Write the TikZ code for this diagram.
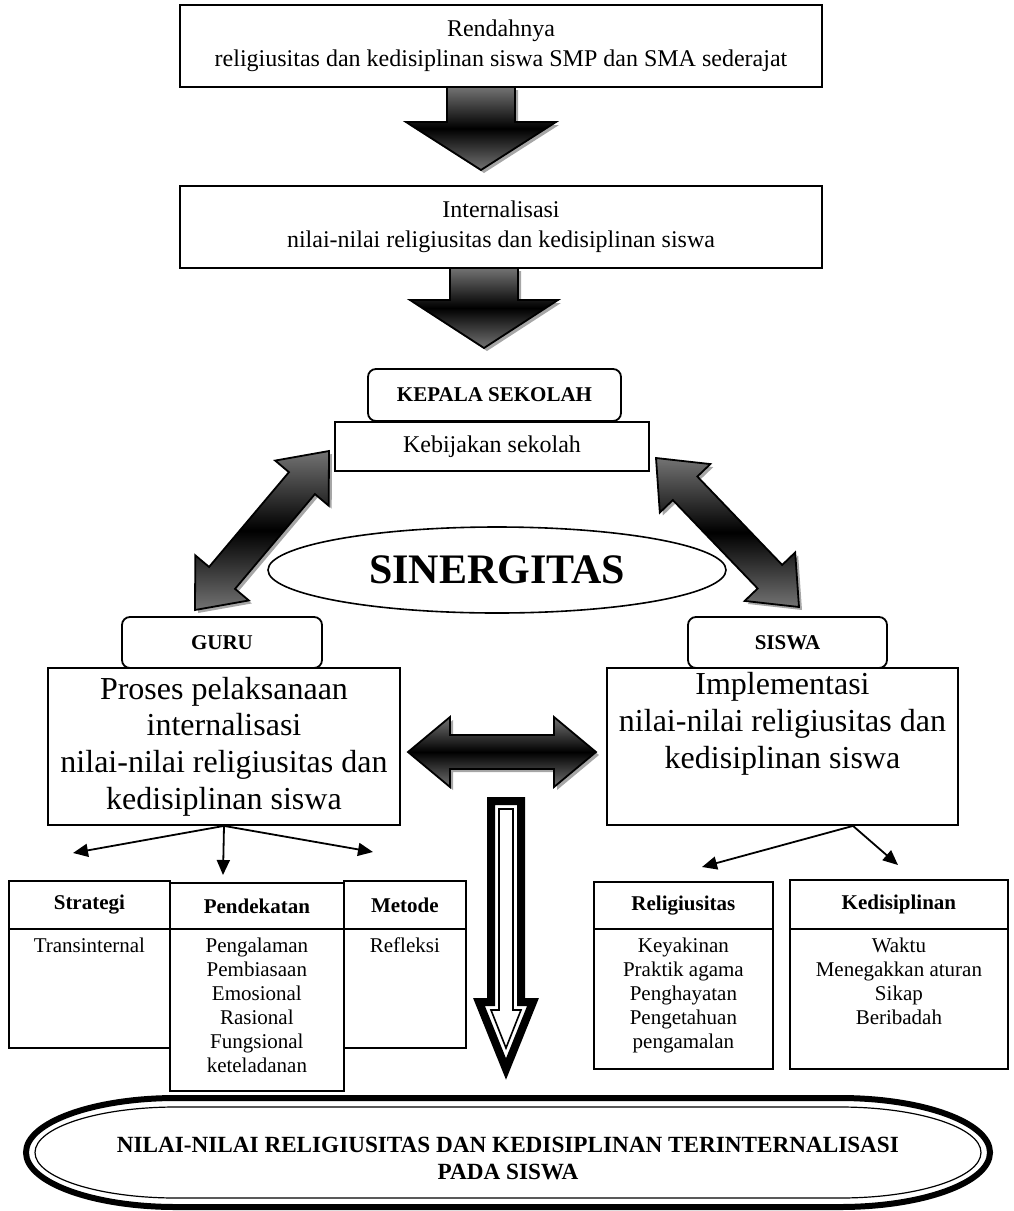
\documentclass[tikz,border=0pt]{standalone}
\usepackage{fontspec}
\setmainfont{Liberation Serif}
\usetikzlibrary{shapes.geometric, positioning, arrows.meta, calc, shadows}

\begin{document}
\begin{tikzpicture}[x=0.5pt, y=-0.5pt, >={Triangle[length=7.5pt, width=6.5pt]},
		box/.style={draw, line width=0.9pt, inner sep=0pt, align=center},
		rbox/.style={box, rounded corners=4pt, font=\fontsize{10.5}{12}\selectfont\bfseries},
		cell/.style={box, anchor=north west},
		head/.style={cell, font=\fontsize{10.5}{12}\selectfont\bfseries},
		body/.style={align=center, inner sep=0pt, font=\fontsize{10.5}{12}\selectfont},
		blockarrow/.style={draw, line width=0.9pt, top color=black!55, bottom color=black!55, middle color=black,
			drop shadow={shadow xshift=1.5pt, shadow yshift=-1.5pt, fill=black!35, opacity=1}}]

		\useasboundingbox (0,0) rectangle (1013,1211);

		\node[box, minimum width=321pt, minimum height=41pt, font=\fontsize{12}{15}\selectfont	] (masalah) 	at (501,46) 	{Rendahnya\\religiusitas dan kedisiplinan siswa SMP dan SMA sederajat};
		\node[box, minimum width=321pt, minimum height=41pt, font=\fontsize{12}{15}\selectfont	] (internal) 	at (501,227) 	{Internalisasi\\nilai-nilai religiusitas dan kedisiplinan siswa};
		\node[rbox, minimum width=126.5pt, minimum height=26pt									] (kepsek) 		at (494.5,395) 	{KEPALA SEKOLAH};
		\node[box, minimum width=157pt, minimum height=24.5pt, font=\fontsize{12}{14}\selectfont	] (kebijakan) 	at (492,446.5) 	{Kebijakan sekolah};
		\node[draw, ellipse, line width=0.8pt, minimum width=229pt, minimum height=43pt, inner sep=0pt,
			font=\fontsize{21}{24}\selectfont\bfseries											] (sinergi) 	at (497,570) 	{SINERGITAS};
		\node[rbox, minimum width=100pt, minimum height=25.5pt									] (guru) 		at (222,642.5) 	{GURU};
		\node[rbox, minimum width=99.5pt, minimum height=25.5pt									] (siswa) 		at (787.5,642.5) {SISWA};
		\node[box, minimum width=176pt, minimum height=78.5pt, font=\fontsize{16}{18.4}\selectfont	] (proses) 		at (224,746.5) 	{Proses pelaksanaan\\internalisasi\\nilai-nilai religiusitas dan\\kedisiplinan siswa};
		\node[box, minimum width=175.5pt, minimum height=78.5pt, font=\fontsize{16}{18.4}\selectfont] (implementasi) at (782.5,746.5)
			{\parbox[c][74pt][t]{170pt}{\centering Implementasi\\nilai-nilai religiusitas dan\\kedisiplinan siswa}};

		% block arrows
		\draw[blockarrow] (447,87) -- (515,87) -- (515,122) -- (556,122) -- (481,170) -- (406,122) -- (447,122) -- cycle;
		\draw[blockarrow] (450,268) -- (518,268) -- (518,300) -- (558,300) -- (484,348) -- (410,300) -- (450,300) -- cycle;

		\coordinate (gA) at (195,610);	\coordinate (gB) at (329,451);
		\coordinate (sA) at (799,607);	\coordinate (sB) at (656,458);
		\coordinate (hA) at (408,752);	\coordinate (hB) at (596,752);
		\foreach \a/\b in {gA/gB, sA/sB, hA/hB} {
			\coordinate (p) at ($(\a)!21pt!(\b)$);
			\coordinate (q) at ($(\b)!21pt!(\a)$);
			\draw[blockarrow] (\a) -- ($(p)!17.5pt!90:(\b)$) -- ($(p)!8.5pt!90:(\b)$) -- ($(q)!8.5pt!-90:(\a)$) -- ($(q)!17.5pt!-90:(\a)$)
				-- (\b) -- ($(q)!17.5pt!90:(\a)$) -- ($(q)!8.5pt!90:(\a)$) -- ($(p)!8.5pt!-90:(\b)$) -- ($(p)!17.5pt!-90:(\b)$) -- cycle;
		}

		\draw[line width=4pt, fill=white] (491,801) -- (521,801) -- (521,1002) -- (533,1002) -- (506,1069) -- (479,1002) -- (491,1002) -- cycle;
		\draw[line width=0.8pt] (499,809) -- (513,809) -- (513,1010) -- (521,1010) -- (506,1048) -- (491,1010) -- (499,1010) -- cycle;

		% tables
		\node[cell, minimum width=80.5pt, minimum height=83.5pt	] (strategi) 	at (8,880) 		{};
		\node[head, minimum width=80.5pt, minimum height=24pt	] (strategihd) 	at (8,880) 		{Strategi};
		\node[cell, minimum width=87pt, minimum height=104pt		] (pendekatan) 	at (169,882) 	{};
		\node[head, minimum width=87pt, minimum height=23pt		] (pendekatanhd) at (169,882) 	{Pendekatan};
		\node[cell, minimum width=61pt, minimum height=83.5pt	] (metode) 		at (343,880) 	{};
		\node[head, minimum width=61pt, minimum height=24pt		] (metodehd) 	at (343,880) 	{Metode};
		\node[cell, minimum width=89.5pt, minimum height=93.5pt	] (religi) 		at (593,881) 	{};
		\node[head, minimum width=89.5pt, minimum height=23.5pt	] (religihd) 	at (593,881) 	{Religiusitas};
		\node[cell, minimum width=109pt, minimum height=94.5pt	] (disiplin) 	at (789,879) 	{};
		\node[head, minimum width=109pt, minimum height=24.5pt	] (disiplinhd) 	at (789,879) 	{Kedisiplinan};

		\node[body, below=4pt of strategihd		] (strategitx) 	{Transinternal};
		\node[body, below=4pt of pendekatanhd	] (pendekatantx) {Pengalaman\\Pembiasaan\\Emosional\\Rasional\\Fungsional\\keteladanan};
		\node[body, below=4pt of metodehd		] (metodetx) 	{Refleksi};
		\node[body, below=4pt of religihd		] (religitx) 	{Keyakinan\\Praktik agama\\Penghayatan\\Pengetahuan\\pengamalan};
		\node[body, below=4pt of disiplinhd		] (disiplintx) 	{Waktu\\Menegakkan aturan\\Sikap\\Beribadah};

		\coordinate (tS) at (73,853);	\coordinate (tP) at (223,875);	\coordinate (tM) at (373,852);
		\coordinate (i0) at ([xshift=35.25pt]implementasi.south);
		\coordinate (tR) at (702,867);	\coordinate (tK) at (898,865);
		\path[->, line width=0.9pt] (proses.south) edge (tS) edge (tP) edge (tM)
			(i0) edge (tR) edge (tK);

		% result
		\draw[line width=3pt] (176,1098) -- (840,1098) arc[start angle=90, end angle=-90, x radius=75pt, y radius=27.25pt]
			-- (176,1207) arc[start angle=270, end angle=90, x radius=75pt, y radius=27.25pt] -- cycle;
		\draw[line width=0.6pt] (176,1107) -- (840,1107) arc[start angle=90, end angle=-90, x radius=70.5pt, y radius=22.75pt]
			-- (176,1198) arc[start angle=270, end angle=90, x radius=70.5pt, y radius=22.75pt] -- cycle;
		\node[align=center, font=\fontsize{11.6}{13.5}\selectfont\bfseries] (hasil) at (508,1158)
			{NILAI-NILAI RELIGIUSITAS DAN KEDISIPLINAN TERINTERNALISASI\\PADA SISWA};
	\end{tikzpicture}
\end{document}
